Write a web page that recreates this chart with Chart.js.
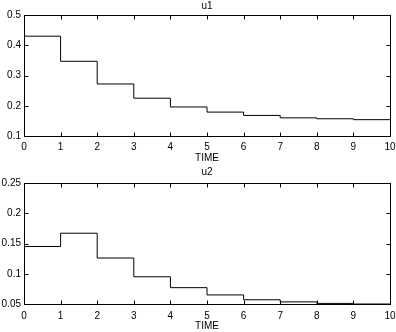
<!DOCTYPE html>
<html>
<head>
<meta charset="utf-8">
<script src="https://cdn.jsdelivr.net/npm/chart.js@4.4.1/dist/chart.umd.min.js"></script>
<style>
  html, body { margin: 0; padding: 0; background: #fff; }
  .box { position: relative; width: 396px; height: 166px; }
</style>
</head>
<body>
<div class="box"><canvas id="u1Chart"></canvas></div>
<div class="box"><canvas id="u2Chart"></canvas></div>
<script>
// sample times (stair edges) and the value held on each interval
const timeSteps = [0, 1, 2, 3, 4, 5, 6, 7, 8, 9, 10];
const u1 = [0.430, 0.347, 0.272, 0.225, 0.196, 0.179, 0.168, 0.160, 0.157, 0.154];
const u2 = [0.145, 0.167, 0.126, 0.095, 0.077, 0.065, 0.057, 0.0535, 0.051, 0.050];

const xTicks = [0, 1, 2, 3, 4, 5, 6, 7, 8, 9, 10];
const u1Ticks = [0.1, 0.2, 0.3, 0.4, 0.5];
const u2Ticks = [0.05, 0.1, 0.15, 0.2, 0.25];

const FONT = { family: 'Liberation Sans, Arial, sans-serif', size: 10 };

// box around the plot area with matlab style inward ticks
const framePlugin = {
  id: 'frame',
  afterDraw(chart) {
    const { ctx, chartArea: a, scales } = chart;
    const L = Math.round(a.left) + 0.5;
    const R = Math.round(a.right) + 0.5;
    const T = Math.round(a.top) + 0.5;
    const B = Math.round(a.bottom) + 0.5;
    ctx.save();
    ctx.strokeStyle = '#000';
    ctx.lineWidth = 1;
    ctx.strokeRect(L, T, R - L, B - T);
    ctx.beginPath();
    scales.x.ticks.forEach((t) => {
      const px = Math.round(scales.x.getPixelForValue(t.value)) + 0.5;
      ctx.moveTo(px, B); ctx.lineTo(px, B - 4);
      ctx.moveTo(px, T); ctx.lineTo(px, T + 4);
    });
    scales.y.ticks.forEach((t) => {
      const py = Math.round(scales.y.getPixelForValue(t.value)) + 0.5;
      ctx.moveTo(L, py); ctx.lineTo(L + 4, py);
      ctx.moveTo(R, py); ctx.lineTo(R - 4, py);
    });
    ctx.stroke();
    ctx.restore();
  },
};

function makeChart(id, title, values, yTicks, opts) {
  // stairs: hold each value until the next time step, repeat last one at the end
  const points = timeSteps.map((t, i) => ({ x: t, y: values[Math.min(i, values.length - 1)] }));
  return new Chart(document.getElementById(id).getContext('2d'), {
    type: 'line',
    data: {
      datasets: [
        {
          label: title,
          data: points,
          stepped: 'before',
          borderColor: '#000',
          borderWidth: 1,
          pointRadius: 0,
          fill: false,
        },
      ],
    },
    options: {
      responsive: true,
      maintainAspectRatio: false,
      animation: false,
      layout: { padding: { left: 0, right: 6, top: 0, bottom: 0 } },
      plugins: {
        legend: { display: false },
        tooltip: { enabled: false },
        title: {
          display: true,
          fullSize: false,
          text: title,
          color: '#000',
          font: { ...FONT, weight: 'normal' },
          padding: opts.titlePad,
        },
      },
      scales: {
        x: {
          type: 'linear',
          min: xTicks[0],
          max: xTicks[xTicks.length - 1],
          afterBuildTicks: (s) => { s.ticks = xTicks.map((v) => ({ value: v })); },
          afterFit: (s) => {
            s.height = opts.xHeight;
            s.paddingLeft = 0;
            s.paddingRight = 0;
          },
          grid: { display: false, drawTicks: false },
          border: { display: false },
          ticks: { color: '#000', font: FONT, padding: opts.xTickPad, maxRotation: 0 },
          title: {
            display: true,
            text: 'TIME',
            color: '#000',
            font: FONT,
            padding: { top: 0, bottom: opts.timePad },
          },
        },
        y: {
          min: yTicks[0],
          max: yTicks[yTicks.length - 1],
          afterBuildTicks: (s) => { s.ticks = yTicks.map((v) => ({ value: v })); },
          afterFit: (s) => {
            s.width = 24;
            s.paddingTop = 0;
            s.paddingBottom = 0;
          },
          grid: { display: false, drawTicks: false },
          border: { display: false },
          ticks: { color: '#000', font: FONT, padding: 3, callback: (v) => String(v) },
        },
      },
    },
    plugins: [framePlugin],
  });
}

makeChart('u1Chart', 'u1', u1, u1Ticks, {
  titlePad: { top: 0, bottom: 3 },
  xHeight: 30,
  xTickPad: 5,
  timePad: 2,
});
makeChart('u2Chart', 'u2', u2, u2Ticks, {
  titlePad: { top: 0, bottom: 5 },
  xHeight: 28,
  xTickPad: 6,
  timePad: 0,
});
</script>
</body>
</html>
